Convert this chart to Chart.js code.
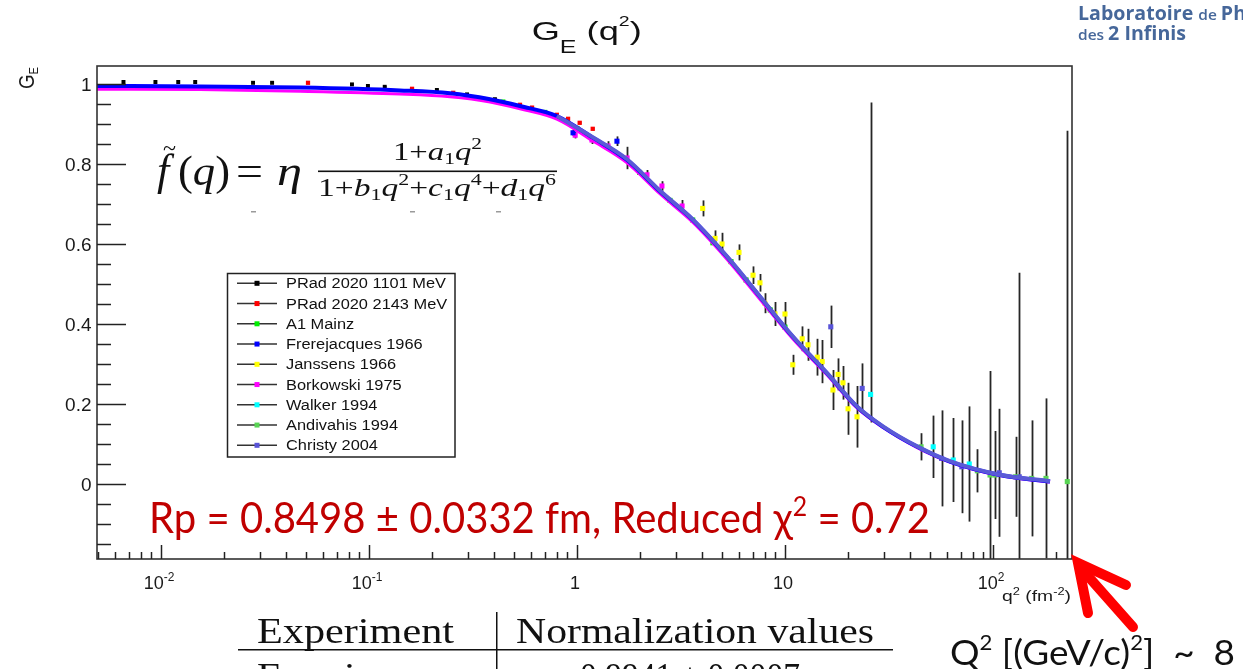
<!DOCTYPE html>
<html>
<head>
<meta charset="utf-8">
<script src="https://cdn.jsdelivr.net/npm/chart.js@4.4.1/dist/chart.umd.min.js"></script>
<style>
html, body { margin: 0; padding: 0; background: #fff; }
canvas { display: block; }
</style>
</head>
<body>
<canvas id="graficoGE" width="1243" height="669"></canvas>
<script>
// valeurs (q2 en fm^-2, G_E)
var q2PRad1101 = [0.0066, 0.0094, 0.0121, 0.0146, 0.0277, 0.0342, 0.0828, 0.0988, 0.119, 0.212, 0.296, 0.403];
var gePRad1101 = [1.005, 1.005, 1.005, 1.005, 1.003, 1.003, 0.999, 0.995, 0.993, 0.985, 0.974, 0.962];
var errPRad1101 = [0.002, 0.002, 0.002, 0.002, 0.002, 0.002, 0.002, 0.002, 0.002, 0.003, 0.003, 0.003];

var q2PRad2143 = [0.0509, 0.161, 0.254, 0.532, 0.608, 0.80, 0.906, 1.03, 1.19];
var gePRad2143 = [1.003, 0.988, 0.978, 0.948, 0.941, 0.923, 0.913, 0.903, 0.888];
var errPRad2143 = [0.002, 0.003, 0.003, 0.003, 0.003, 0.003, 0.004, 0.004, 0.004];

var q2A1 = [0.44, 0.7, 1.0, 1.4, 2.0, 2.8, 3.6, 4.5, 5.5, 6.5, 8.5, 10.0];
var geA1 = [0.955, 0.929, 0.889, 0.842, 0.779, 0.709, 0.66, 0.603, 0.556, 0.51, 0.435, 0.392];
var errA1 = [0.002, 0.002, 0.003, 0.003, 0.003, 0.004, 0.004, 0.005, 0.005, 0.006, 0.007, 0.008];

var q2Frerejacques = [0.957, 1.556];
var geFrerejacques = [0.878, 0.857];
var errFrerejacques = [0.008, 0.012];

var q2Janssens = [4.02, 4.61, 4.98, 6.01, 7.02, 7.58, 8.01, 8.95, 10.0, 10.9, 12.1, 12.9, 14.3, 15.1, 17.0, 18.0, 19.0, 20.1, 22.2];
var geJanssens = [0.689, 0.614, 0.60, 0.579, 0.522, 0.503, 0.452, 0.425, 0.425, 0.298, 0.363, 0.348, 0.317, 0.306, 0.235, 0.274, 0.253, 0.188, 0.168];
var errJanssens = [0.02, 0.02, 0.028, 0.02, 0.022, 0.022, 0.025, 0.03, 0.03, 0.025, 0.031, 0.04, 0.046, 0.054, 0.05, 0.04, 0.042, 0.065, 0.077];

var q2Borkowski = [0.98, 1.18, 1.41, 1.74, 2.17, 2.56, 3.20];
var geBorkowski = [0.872, 0.86, 0.845, 0.815, 0.773, 0.745, 0.695];
var errBorkowski = [0.008, 0.01, 0.012, 0.028, 0.012, 0.012, 0.015];

var q2Walker = [25.8, 51.6, 64.4, 76.9];
var geWalker = [0.224, 0.093, 0.06, 0.05];
var errWalker = [[0.07, 0.73], 0.078, 0.105, 0.144];

var q2Andivahis = [45.1, 84.1, 96.8, 102.3, 128.5, 153.5, 179.8, 227.6];
var geAndivahis = [0.093, 0.033, 0.0225, 0.0225, 0.018, 0.014, 0.014, 0.006];
var errAndivahis = [0.034, 0.054, 0.26, 0.11, 0.1, 0.145, 0.2, 0.877];

var q2Christy = [16.6, 23.5, 56.6, 70.8, 107.2, 133.7];
var geChristy = [0.393, 0.239, 0.064, 0.043, 0.028, 0.018];
var errChristy = [0.053, 0.0625, 0.12, 0.116, 0.16, 0.51];

// courbes d'ajustement
var q2Fit = [0.00492, 0.0154, 0.0466, 0.141, 0.245, 0.382, 0.532, 0.80, 1.19, 1.74, 2.51, 3.61, 5.26, 7.58, 10.9, 15.9, 22.2, 29.6, 43.2, 62.1, 108, 188];
var fitBleu = [0.995, 0.994, 0.991, 0.984, 0.977, 0.962, 0.945, 0.92, 0.866, 0.81, 0.731, 0.66, 0.568, 0.468, 0.368, 0.277, 0.193, 0.143, 0.093, 0.056, 0.0225, 0.006];
var fitMagenta = [0.987, 0.986, 0.982, 0.975, 0.968, 0.955, 0.938, 0.912, 0.858, 0.803, 0.725, 0.654, 0.562, 0.462, 0.363, 0.273, 0.19, 0.141, 0.091, 0.055, 0.021, 0.005];
var q2FitChristy = [0.80, 1.19, 1.74, 2.51, 3.61, 5.26, 7.58, 10.9, 15.9, 22.2, 29.6, 43.2, 62.1, 108, 188];
var fitChristy = [0.92, 0.867, 0.812, 0.733, 0.661, 0.569, 0.469, 0.369, 0.278, 0.194, 0.144, 0.094, 0.057, 0.023, 0.007];

// axes
var yTicks = [0, 0.2, 0.4, 0.6, 0.8, 1];
var yTickLabels = ['0', '0.2', '0.4', '0.6', '0.8', '1'];
var xTicks = [0.01, 0.1, 1, 10, 100];
var xTickBase = ['10', '10', '1', '10', '10'];
var xTickExp = ['-2', '-1', '', '', '2'];

var F = "'Liberation Sans', Arial, sans-serif";
var SERIF = "'Liberation Serif', 'DejaVu Serif', serif";
var CAL = "Lato, 'Open Sans', sans-serif";

function points(xs, ys) {
    return xs.map(function (x, i) { return { x: x, y: ys[i] }; });
}
function serie(label, color, xs, ys, errs, order, r) {
    return {
        label: label, data: points(xs, ys), err: errs, legende: true,
        showLine: false, pointStyle: 'rect', pointRadius: r || 3.6, pointHoverRadius: r || 3.6,
        pointBorderWidth: 0, backgroundColor: color, borderColor: color, order: order
    };
}
function courbe(color, width, xs, ys, order) {
    return {
        label: '', data: points(xs, ys), showLine: true, pointRadius: 0, pointHoverRadius: 0,
        borderColor: color, backgroundColor: color, borderWidth: width,
        cubicInterpolationMode: 'monotone', fill: false, order: order
    };
}

// texte en morceaux (indices / exposants), étiré à la largeur voulue
function rich(c, segs, x, y, align, width, color) {
    var w = 0;
    segs.forEach(function (s) { c.font = s.f; s.w = c.measureText(s.t).width; w += s.w; });
    var k = width ? width / w : 1;
    var x0 = align === 'center' ? x - w * k / 2 : (align === 'right' ? x - w * k : x);
    c.save();
    c.fillStyle = color || '#111';
    c.textAlign = 'left';
    c.textBaseline = 'alphabetic';
    c.translate(x0, y);
    c.scale(k, 1);
    var cx = 0;
    segs.forEach(function (s) { c.font = s.f; c.fillText(s.t, cx, s.dy || 0); cx += s.w; });
    c.restore();
}

var barresErreur = {
    id: 'barresErreur',
    beforeDatasetsDraw: function (chart) {
        var c = chart.ctx, a = chart.chartArea, sx = chart.scales.x, sy = chart.scales.y;
        c.save();
        c.beginPath();
        c.rect(a.left, a.top, a.right - a.left, a.bottom - a.top);
        c.clip();
        c.strokeStyle = '#262626';
        c.lineWidth = 1.8;
        chart.data.datasets.forEach(function (ds) {
            if (!ds.err) return;
            ds.data.forEach(function (p, i) {
                var e = ds.err[i];
                var lo = Array.isArray(e) ? e[0] : e, hi = Array.isArray(e) ? e[1] : e;
                var px = Math.round(sx.getPixelForValue(p.x)) + 0.5;
                c.beginPath();
                c.moveTo(px, sy.getPixelForValue(p.y - lo));
                c.lineTo(px, sy.getPixelForValue(p.y + hi));
                c.stroke();
            });
        });
        c.restore();
    }
};

var decor = {
    id: 'decor',
    afterDraw: function (chart) {
        var c = chart.ctx, a = chart.chartArea, sx = chart.scales.x, sy = chart.scales.y;
        c.save();
        // cadre
        c.strokeStyle = '#333';
        c.lineWidth = 1.6;
        c.strokeRect(a.left, a.top, a.right - a.left, a.bottom - a.top);
        // graduations y
        c.strokeStyle = '#222';
        c.lineWidth = 1.5;
        for (var v = -0.15; v <= 1.001; v += 0.05) {
            var py = Math.round(sy.getPixelForValue(v)) + 0.5;
            var major = Math.abs(Math.round(v / 0.2) * 0.2 - v) < 0.001;
            c.beginPath(); c.moveTo(a.left, py); c.lineTo(a.left + (major ? 29 : 14), py); c.stroke();
        }
        yTicks.forEach(function (t, i) {
            rich(c, [{ t: yTickLabels[i], f: '19px ' + F }], 91.5, sy.getPixelForValue(t) + 7, 'right', 0, '#1a1a1a');
        });
        // graduations x (log)
        for (var d = -3; d <= 2; d++) {
            for (var m = 1; m <= 9; m++) {
                var val = m * Math.pow(10, d);
                if (val < sx.min || val > sx.max) continue;
                var px = Math.round(sx.getPixelForValue(val)) + 0.5;
                c.beginPath(); c.moveTo(px, a.bottom); c.lineTo(px, a.bottom - (m === 1 ? 14 : 7)); c.stroke();
            }
        }
        xTicks.forEach(function (t, i) {
            var segs = [{ t: xTickBase[i], f: '18px ' + F }];
            if (xTickExp[i]) segs.push({ t: xTickExp[i], f: '12px ' + F, dy: -8 });
            rich(c, segs, sx.getPixelForValue(t) - 2, 589, 'center', 0, '#1a1a1a');
        });
        // titres d'axes
        rich(c, [{ t: 'q', f: '15px ' + F }, { t: '2', f: '10px ' + F, dy: -6 }, { t: ' (fm', f: '15px ' + F }, { t: '-2', f: '10px ' + F, dy: -6 }, { t: ')', f: '15px ' + F }], 1071, 601, 'right', 69, '#1a1a1a');
        c.save();
        c.translate(34, 89);
        c.rotate(-Math.PI / 2);
        rich(c, [{ t: 'G', f: '22px ' + F }, { t: 'E', f: '13px ' + F, dy: 4 }], 0, 0, 'left', 22, '#1a1a1a');
        c.restore();
        // titre
        rich(c, [{ t: 'G', f: '26px ' + F }, { t: 'E', f: '18px ' + F, dy: 13 }, { t: ' (q', f: '26px ' + F }, { t: '2', f: '14px ' + F, dy: -14 }, { t: ')', f: '26px ' + F }], 531.7, 40, 'left', 110, '#111');

        // légende
        c.fillStyle = '#fff';
        c.fillRect(227, 273, 228, 184);
        c.strokeStyle = '#222';
        c.lineWidth = 1.5;
        c.strokeRect(227.5, 273.5, 227.5, 183.5);
        c.font = '14px ' + F;
        var kLeg = 160 / c.measureText('PRad 2020 1101 MeV').width;
        var row = 0;
        chart.data.datasets.forEach(function (ds) {
            if (!ds.legende) return;
            var cy = 283.3 + row * 20.25;
            c.strokeStyle = '#333';
            c.lineWidth = 1.5;
            c.beginPath(); c.moveTo(237, cy); c.lineTo(277, cy); c.stroke();
            c.fillStyle = ds.backgroundColor;
            c.fillRect(254.5, cy - 2.5, 5, 5);
            c.font = '14px ' + F;
            rich(c, [{ t: ds.label, f: '14px ' + F }], 286, cy + 5, 'left', c.measureText(ds.label).width * kLeg, '#111');
            row++;
        });

        // formule
        rich(c, [{ t: 'f', f: 'italic 44px ' + SERIF }], 157, 185, 'left', 0, '#111');
        rich(c, [{ t: '~', f: '24px ' + SERIF }], 163, 156, 'left', 13, '#111');
        rich(c, [{ t: '(', f: '42px ' + SERIF }, { t: 'q', f: 'italic 42px ' + SERIF }, { t: ')', f: '42px ' + SERIF }], 178, 185, 'left', 52, '#111');
        rich(c, [{ t: '=', f: '42px ' + SERIF }], 236, 185, 'left', 27, '#111');
        rich(c, [{ t: 'η', f: 'italic 40px ' + SERIF }], 277, 185, 'left', 25, '#111');
        var s26 = '26px ' + SERIF, i26 = 'italic 26px ' + SERIF, s17 = '17px ' + SERIF;
        rich(c, [{ t: '1+', f: s26 }, { t: 'a', f: i26 }, { t: '1', f: s17, dy: 4 }, { t: 'q', f: i26 }, { t: '2', f: s17, dy: -11 }], 393, 160, 'left', 89, '#111');
        c.fillStyle = '#111';
        c.fillRect(318, 170.5, 239, 1.6);
        rich(c, [{ t: '1+', f: s26 }, { t: 'b', f: i26 }, { t: '1', f: s17, dy: 4 }, { t: 'q', f: i26 }, { t: '2', f: s17, dy: -11 },
            { t: '+', f: s26 }, { t: 'c', f: i26 }, { t: '1', f: s17, dy: 4 }, { t: 'q', f: i26 }, { t: '4', f: s17, dy: -11 },
            { t: '+', f: s26 }, { t: 'd', f: i26 }, { t: '1', f: s17, dy: 4 }, { t: 'q', f: i26 }, { t: '6', f: s17, dy: -11 }], 318, 196, 'left', 238, '#111');
        c.fillStyle = '#9a9a9a';
        [251, 410, 496].forEach(function (x) { c.fillRect(x, 211, 5, 1.5); });

        // annotation rouge
        rich(c, [{ t: 'Rp = 0.8498 ± 0.0332 fm, Reduced ', f: '42px ' + CAL }, { t: 'χ', f: '42px ' + CAL },
            { t: '2', f: '26px ' + CAL, dy: -17 }, { t: ' = 0.72', f: '42px ' + CAL }], 149, 533, 'left', 781, '#c00000');

        // tableau
        rich(c, [{ t: 'Experiment', f: '36px ' + SERIF }], 257, 643, 'left', 197, '#111');
        rich(c, [{ t: 'Normalization values', f: '36px ' + SERIF }], 516, 643, 'left', 358, '#111');
        rich(c, [{ t: 'Frerejacques', f: '36px ' + SERIF }], 257, 688, 'left', 210, '#111');
        rich(c, [{ t: '0.9941 ± 0.0007', f: '36px ' + SERIF }], 580, 688, 'left', 220, '#111');
        c.fillStyle = '#111';
        c.fillRect(238, 649, 655, 1.5);
        c.fillRect(496, 612, 1.5, 57);

        // flèche et Q2
        c.strokeStyle = '#ff0000';
        c.lineWidth = 10;
        c.lineCap = 'round';
        c.lineJoin = 'miter';
        c.beginPath(); c.moveTo(1133, 627); c.lineTo(1079, 566); c.stroke();
        c.beginPath(); c.moveTo(1088, 613); c.lineTo(1078, 563); c.lineTo(1126, 585); c.stroke();
        rich(c, [{ t: 'Q', f: '35px ' + CAL }, { t: '2', f: '21px ' + CAL, dy: -15 }, { t: ' [(GeV/c)', f: '35px ' + CAL },
            { t: '2', f: '21px ' + CAL, dy: -15 }, { t: ']  ~  8', f: '35px ' + CAL }], 950, 665, 'left', 285, '#111');

        // logo
        var B = "'Open Sans', 'Noto Sans', sans-serif";
        rich(c, [{ t: 'Laboratoire ', f: 'bold 19px ' + B }, { t: 'de ', f: '600 15px ' + B }, { t: 'Ph', f: 'bold 19px ' + B }], 1078, 20, 'left', 168, '#46679a');
        rich(c, [{ t: 'des ', f: '600 15px ' + B }, { t: '2 Infinis', f: 'bold 19px ' + B }], 1078, 40, 'left', 108, '#46679a');
        c.restore();
    }
};

var graficoGE = new Chart(document.getElementById('graficoGE').getContext('2d'), {
    type: 'scatter',
    data: {
        datasets: [
            serie('PRad 2020 1101 MeV', '#000000', q2PRad1101, gePRad1101, errPRad1101, 10, 2.8),
            serie('PRad 2020 2143 MeV', '#ff0000', q2PRad2143, gePRad2143, errPRad2143, 11, 3),
            serie('A1 Mainz', '#00ee00', q2A1, geA1, errA1, 18),
            serie('Frerejacques 1966', '#0000ff', q2Frerejacques, geFrerejacques, errFrerejacques, 12),
            serie('Janssens 1966', '#ffff00', q2Janssens, geJanssens, errJanssens, 13),
            serie('Borkowski 1975', '#ff00ff', q2Borkowski, geBorkowski, errBorkowski, 14),
            serie('Walker 1994', '#00ffff', q2Walker, geWalker, errWalker, 15),
            serie('Andivahis 1994', '#59d454', q2Andivahis, geAndivahis, errAndivahis, 16),
            serie('Christy 2004', '#5954d8', q2Christy, geChristy, errChristy, 17),
            courbe('#ff00ff', 3, q2Fit, fitMagenta, 3),
            courbe('#0000ff', 4, q2Fit, fitBleu, 2),
            courbe('#5a5ad6', 4, q2FitChristy, fitChristy, 1)
        ]
    },
    options: {
        responsive: false,
        animation: false,
        events: [],
        layout: { padding: { left: 97, top: 66, right: 171, bottom: 110 } },
        scales: {
            x: { type: 'logarithmic', min: 0.004923, max: 239.8, display: false },
            y: { type: 'linear', min: -0.1875, max: 1.045, display: false }
        },
        plugins: {
            legend: { display: false },
            tooltip: { enabled: false }
        }
    },
    plugins: [barresErreur, decor]
});
</script>
</body>
</html>
